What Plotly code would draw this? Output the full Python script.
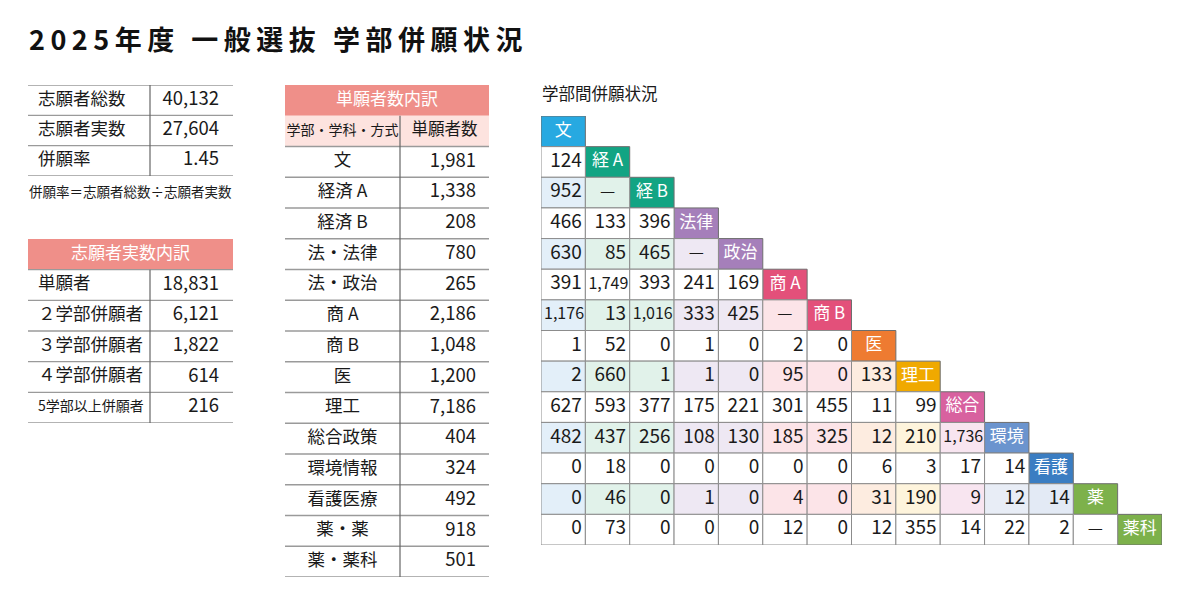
import plotly.graph_objects as go

# ---------------- data ----------------
TITLE = "2025年度 一般選抜 学部併願状況"

summary_labels = ["志願者総数", "志願者実数", "併願率"]
summary_values = [40132, 27604, 1.45]
summary_note = "併願率＝志願者総数÷志願者実数"

breakdown_title = "志願者実数内訳"
breakdown_labels = ["単願者", "２学部併願者", "３学部併願者", "４学部併願者", "5学部以上併願者"]
breakdown_values = [18831, 6121, 1822, 614, 216]

single_title = "単願者数内訳"
single_head = ["学部・学科・方式", "単願者数"]
single_labels = ["文", "経済 A", "経済 B", "法・法律", "法・政治", "商 A", "商 B", "医", "理工",
                 "総合政策", "環境情報", "看護医療", "薬・薬", "薬・薬科"]
single_values = [1981, 1338, 208, 780, 265, 2186, 1048, 1200, 7186, 404, 324, 492, 918, 501]

matrix_title = "学部間併願状況"
matrix_heads = ["文", "経 A", "経 B", "法律", "政治", "商 A", "商 B", "医", "理工", "総合", "環境", "看護", "薬", "薬科"]
# None = "—" (not applicable)
matrix_rows = [
    [],
    [124],
    [952, None],
    [466, 133, 396],
    [630, 85, 465, None],
    [391, 1749, 393, 241, 169],
    [1176, 13, 1016, 333, 425, None],
    [1, 52, 0, 1, 0, 2, 0],
    [2, 660, 1, 1, 0, 95, 0, 133],
    [627, 593, 377, 175, 221, 301, 455, 11, 99],
    [482, 437, 256, 108, 130, 185, 325, 12, 210, 1736],
    [0, 18, 0, 0, 0, 0, 0, 6, 3, 17, 14],
    [0, 46, 0, 1, 0, 4, 0, 31, 190, 9, 12, 14],
    [0, 73, 0, 0, 0, 12, 0, 12, 355, 14, 22, 2, None],
]

# ---------------- styles ----------------
head_colors = ["#27a9e1", "#12a483", "#12a483", "#a57fba", "#a57fba", "#e3507a", "#e3507a",
               "#ee7b31", "#f0a900", "#d8619f", "#6b94ce", "#3a7dc2", "#7db14b", "#7db14b"]
tint_colors = ["#e3eff9", "#e1f2ea", "#e1f2ea", "#eee8f3", "#eee8f3", "#fce4e8", "#fce4e8",
               "#fdece0", "#fef4dc", "#f8e5f0", "#e8edf6", "#e3eaf5", "#eaf2df", "#eaf2df"]
FONT = "Noto Sans CJK JP"
PINK = "#ef8f89"
PINK_LIGHT = "#fde3df"
LINE = "#9a9a9a"
VLINE = "#666666"
CELL_LINE = "#8c8c8c"
# page body has an 8px margin; the figure is sized so the page fits the 1200x605 window
OFF = 8
W, H = 1200 - 2 * OFF, 605 - 2 * OFF


def dom_x(a, b):
    return [(a - OFF) / W, (b - OFF) / W]


def dom_y(top, bottom):
    return [1 - (bottom - OFF) / H, 1 - (top - OFF) / H]


def px(x):
    return (x - OFF) / W


def py(y):
    return 1 - (y - OFF) / H


fig = go.Figure()
shapes = []

# axes: (name, xdomain, ydomain, xrange, yrange)
axes = {
    "": (dom_x(541, 1162), dom_y(116, 545), [0, 14], [14, 0]),      # matrix
    "2": (dom_x(285, 489), dom_y(85, 577), [0, 204], [16, 0]),      # single table
    "3": (dom_x(28, 233), dom_y(85, 176), [0, 205], [3, 0]),        # summary table
    "4": (dom_x(28, 233), dom_y(239, 423), [0, 205], [6, 0]),       # breakdown table
}
for k, (dx, dy, rx, ry) in axes.items():
    fig.update_layout(**{
        f"xaxis{k}": dict(domain=dx, range=rx, visible=False, fixedrange=True, anchor=f"y{k}"),
        f"yaxis{k}": dict(domain=dy, range=ry, visible=False, fixedrange=True, anchor=f"x{k}"),
    })


def add_text(xs, ys, texts, axis, pos, size, color="#1a1a1a", weight="normal"):
    fig.add_trace(go.Scatter(
        x=xs, y=ys, text=texts, mode="text", textposition=pos,
        textfont=dict(family=FONT, size=size, color=color, weight=weight),
        xaxis=f"x{axis}", yaxis=f"y{axis}", hoverinfo="skip", showlegend=False, cliponaxis=False))


def hline(axis, y, x0, x1, color=LINE, width=1.3):
    shapes.append(dict(type="line", xref=f"x{axis}", yref=f"y{axis}", x0=x0, x1=x1, y0=y, y1=y,
                       line=dict(color=color, width=width)))


def vline(axis, x, y0, y1, color=VLINE, width=1.2):
    shapes.append(dict(type="line", xref=f"x{axis}", yref=f"y{axis}", x0=x, x1=x, y0=y0, y1=y1,
                       line=dict(color=color, width=width)))


def rect(axis, x0, x1, y0, y1, fill, line=None, lw=0):
    shapes.append(dict(type="rect", xref=f"x{axis}", yref=f"y{axis}", x0=x0, x1=x1, y0=y0, y1=y1,
                       fillcolor=fill, line=dict(color=line or fill, width=lw), layer="below"))


def fmt(v):
    if isinstance(v, float):
        return f"{v:.2f}"
    return f"{v:,}"


LAB = 17.5
NUM = 18.5

# ---------------- summary table ----------------
DIV1 = 122
TW = 205
n = len(summary_labels)
for r in range(n + 1):
    hline("3", r, 0, TW)
vline("3", DIV1, 0, n)
add_text([10] * n, [r + 0.5 for r in range(n)], summary_labels, "3", "middle right", LAB)
add_text([191] * n, [r + 0.5 for r in range(n)], [fmt(v) for v in summary_values], "3", "middle left", NUM)

# ---------------- breakdown table ----------------
n = len(breakdown_labels)
rect("4", 0, TW, 0, 1, PINK)
add_text([TW / 2], [0.5], [breakdown_title], "4", "middle center", 17, "white")
for r in range(1, n + 2):
    hline("4", r, 0, TW)
vline("4", DIV1, 1, n + 1)
bsizes = [LAB if len(s) < 7 else 14 for s in breakdown_labels]
for i, (lab, val) in enumerate(zip(breakdown_labels, breakdown_values)):
    add_text([10], [i + 1.5], [lab], "4", "middle right", bsizes[i])
    add_text([191], [i + 1.5], [fmt(val)], "4", "middle left", NUM)

# ---------------- single-applicant table ----------------
DIV2 = 115
TW2 = 204
n = len(single_labels)
rect("2", 0, TW2, 0, 1, PINK)
rect("2", 0, TW2, 1, 2, PINK_LIGHT)
add_text([TW2 / 2], [0.5], [single_title], "2", "middle center", 17, "white")
add_text([DIV2 / 2], [1.5], [single_head[0]], "2", "middle center", 14)
add_text([(DIV2 + TW2) / 2], [1.5], [single_head[1]], "2", "middle center", 16.5)
for r in range(2, n + 3):
    hline("2", r, 0, TW2)
vline("2", DIV2, 1, n + 2)
add_text([DIV2 / 2] * n, [r + 2.5 for r in range(n)], single_labels, "2", "middle center", LAB)
add_text([191] * n, [r + 2.5 for r in range(n)], [fmt(v) for v in single_values], "2", "middle left", NUM)

# ---------------- matrix ----------------
for i, row in enumerate(matrix_rows):
    # header cell on the diagonal
    rect("", i, i + 1, i, i + 1, head_colors[i], "#6e6e6e", 1)
    for j, v in enumerate(row):
        fill = tint_colors[j] if i % 2 == 0 else "white"
        rect("", j, j + 1, i, i + 1, fill, CELL_LINE, 1)

hx = [i + 0.5 for i in range(len(matrix_heads))]
hy = [i + 0.5 for i in range(len(matrix_heads))]
add_text(hx, hy, matrix_heads, "", "middle center", 17, "white")

small_x, small_y, small_t = [], [], []
big_x, big_y, big_t = [], [], []
dash_x, dash_y = [], []
for i, row in enumerate(matrix_rows):
    for j, v in enumerate(row):
        if v is None:
            dash_x.append(j + 0.5)
            dash_y.append(i + 0.5)
        elif v >= 1000:
            small_x.append(j + 0.97)
            small_y.append(i + 0.5)
            small_t.append(fmt(v))
        else:
            big_x.append(j + 0.92)
            big_y.append(i + 0.5)
            big_t.append(fmt(v))
add_text(big_x, big_y, big_t, "", "middle left", 19)
add_text(small_x, small_y, small_t, "", "middle left", 16)
add_text(dash_x, dash_y, ["—"] * len(dash_x), "", "middle center", 17)

# ---------------- titles ----------------
annotations = [
    dict(text=f'<span style="letter-spacing:5.5px">{TITLE}</span>', xref="paper", yref="paper",
         x=px(27), y=py(38), xanchor="left", yanchor="middle", showarrow=False,
         font=dict(family=FONT, size=27, color="#111111", weight="bold")),
    dict(text=summary_note, xref="paper", yref="paper", x=px(27), y=py(191),
         xanchor="left", yanchor="middle", showarrow=False,
         font=dict(family=FONT, size=13.5, color="#1a1a1a")),
    dict(text=matrix_title, xref="paper", yref="paper", x=px(540), y=py(93),
         xanchor="left", yanchor="middle", showarrow=False,
         font=dict(family=FONT, size=16.5, color="#1a1a1a")),
]

fig.update_layout(
    width=W, height=H, margin=dict(l=0, r=0, t=0, b=0),
    paper_bgcolor="white", plot_bgcolor="rgba(0,0,0,0)",
    shapes=shapes, annotations=annotations, showlegend=False,
    font=dict(family=FONT),
)

fig.write_html("out.html", config={"displayModeBar": False})
